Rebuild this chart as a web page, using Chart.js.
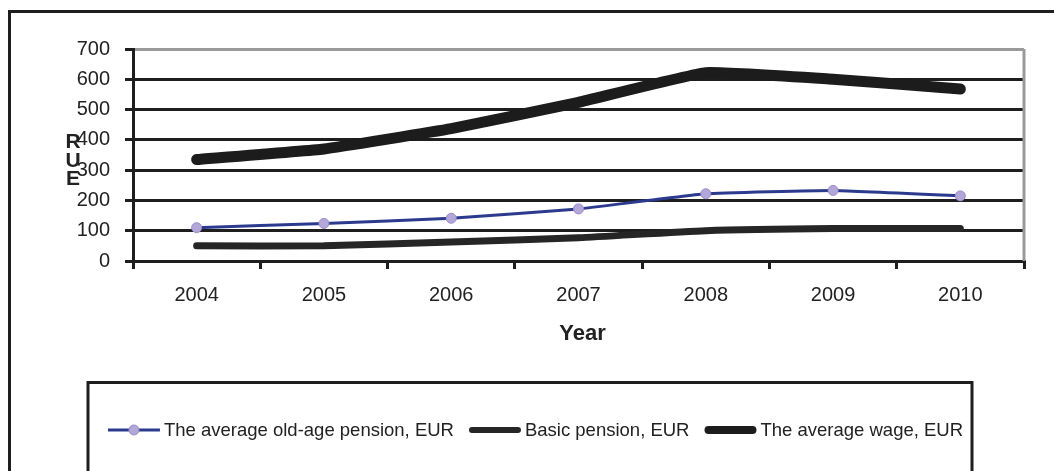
<!DOCTYPE html>
<html>
<head>
<meta charset="utf-8">
<script src="https://cdn.jsdelivr.net/npm/chart.js@4/dist/chart.umd.min.js"></script>
<style>
  html, body { margin: 0; padding: 0; background: #fff; }
  #wrap { width: 1054px; height: 471px; position: relative; }
</style>
</head>
<body>
<div id="wrap"><canvas id="c" width="1054" height="471"></canvas></div>
<script>
const years = ['2004', '2005', '2006', '2007', '2008', '2009', '2010'];
const avgPension = [110, 124, 141, 172, 222, 233, 215];
const basicPension = [50, 50, 63, 77, 100, 107, 107];
const avgWage = [335, 370, 437, 524, 622, 600, 568];
const seriesLabels = ['The average old-age pension, EUR', 'Basic pension, EUR', 'The average wage, EUR'];
const xTitle = 'Year';
const yTitle = 'EUR';
const yMin = 0, yMax = 700, yStep = 100;

Chart.defaults.font.family = '"Liberation Sans", Arial, sans-serif';
Chart.defaults.color = '#222';

const ink = '#1e1e1e';

const decorPlugin = {
  id: 'decor',
  beforeDraw(chart) {
    const c = chart.ctx;
    c.save();
    c.fillStyle = '#fff';
    c.fillRect(0, 0, chart.width, chart.height);
    c.strokeStyle = ink;
    c.lineWidth = 3;
    c.beginPath();
    c.moveTo(9.5, chart.height);
    c.lineTo(9.5, 11.5);
    c.lineTo(chart.width, 11.5);
    c.stroke();
    // legend frame
    c.beginPath();
    c.moveTo(88, chart.height + 2);
    c.lineTo(88, 382.5);
    c.lineTo(972, 382.5);
    c.lineTo(972, chart.height + 2);
    c.stroke();
    c.restore();
  },
  beforeDatasetsDraw(chart) {
    const a = chart.chartArea, c = chart.ctx;
    c.save();
    c.strokeStyle = '#9a9a9a';
    c.lineWidth = 3;
    c.beginPath();
    c.moveTo(a.right, a.top);
    c.lineTo(a.right, a.bottom);
    c.stroke();
    c.restore();
  },
  afterDraw(chart) {
    const c = chart.ctx;
    const a = chart.chartArea;
    c.save();
    // x title
    c.fillStyle = '#222';
    c.font = 'bold 22px "Liberation Sans", Arial, sans-serif';
    c.textAlign = 'center';
    c.textBaseline = 'middle';
    c.fillText(xTitle, (a.left + a.right) / 2 + 4, 334);
    // y title: upright letters stacked bottom-to-top
    c.font = 'bold 21px "Liberation Sans", Arial, sans-serif';
    c.textBaseline = 'alphabetic';
    const letters = yTitle.split('');
    const baseY = 185, step = 18.5;
    letters.forEach((ch, i) => {
      c.fillText(ch, 73, baseY - i * step);
    });
    // legend
    c.font = '18.5px "Liberation Sans", Arial, sans-serif';
    c.textAlign = 'left';
    c.textBaseline = 'middle';
    const ly = 430;
    const sw = 52, gap = 4, itemGap = 15;
    const widths = seriesLabels.map(t => c.measureText(t).width);
    const total = widths.reduce((s, w) => s + sw + gap + w, 0) + itemGap * (seriesLabels.length - 1);
    let x = 535.5 - total / 2;
    chart.data.datasets.forEach((ds, i) => {
      c.save();
      c.strokeStyle = ds.borderColor;
      c.lineWidth = ds.legendWidth;
      c.lineCap = ds.borderCapStyle || 'butt';
      c.beginPath();
      c.moveTo(x + (ds.legendWidth > 4 ? ds.legendWidth / 2 : 0), ly);
      c.lineTo(x + sw - (ds.legendWidth > 4 ? ds.legendWidth / 2 : 0), ly);
      c.stroke();
      if (ds.pointRadius > 0) {
        c.fillStyle = ds.pointBackgroundColor;
        c.strokeStyle = ds.pointBorderColor;
        c.lineWidth = 1;
        c.beginPath();
        c.arc(x + sw / 2, ly, ds.pointRadius, 0, Math.PI * 2);
        c.fill();
        c.stroke();
      }
      c.restore();
      c.fillStyle = '#222';
      c.fillText(ds.label, x + sw + gap, ly + 1);
      x += sw + gap + widths[i] + itemGap;
    });
    c.restore();
  }
};

new Chart(document.getElementById('c'), {
  type: 'line',
  data: {
    labels: years,
    datasets: [
      {
        label: seriesLabels[0],
        data: avgPension,
        borderColor: '#2c3a8e',
        borderWidth: 3,
        legendWidth: 3,
        pointStyle: 'circle',
        pointRadius: 5,
        pointBackgroundColor: '#b3a7da',
        pointBorderColor: '#9a8cc9',
        pointBorderWidth: 1,
        tension: 0.1,
        fill: false
      },
      {
        label: seriesLabels[1],
        data: basicPension,
        borderColor: '#262626',
        borderWidth: 7,
        legendWidth: 6,
        borderCapStyle: 'round',
        pointRadius: 0,
        tension: 0.2,
        fill: false
      },
      {
        label: seriesLabels[2],
        data: avgWage,
        borderColor: '#1c1c1c',
        borderWidth: 11,
        legendWidth: 8,
        borderCapStyle: 'round',
        pointRadius: 0,
        tension: 0.1,
        fill: false
      }
    ]
  },
  options: {
    responsive: false,
    animation: false,
    devicePixelRatio: 1,
    layout: { padding: { top: 49, right: 30, left: 0, bottom: 0 } },
    plugins: {
      legend: { display: false },
      tooltip: { enabled: false }
    },
    scales: {
      x: {
        offset: true,
        afterFit(scale) { scale.height = 210; },
        grid: {
          offset: true,
          drawOnChartArea: false,
          drawTicks: true,
          tickLength: 8,
          color: ink,
          lineWidth: 3
        },
        border: { display: true, color: ink, width: 3 },
        ticks: {
          font: { size: 20 },
          color: '#222',
          padding: 14,
          maxRotation: 0,
          autoSkip: false
        }
      },
      y: {
        min: yMin,
        max: yMax,
        afterFit(scale) { scale.width = 133; },
        grid: {
          drawTicks: true,
          tickLength: 8,
          color: (ctx) => (ctx.tick && ctx.tick.value === yMax ? '#9a9a9a' : ink),
          tickColor: ink,
          lineWidth: 3
        },
        border: { display: true, color: ink, width: 3 },
        ticks: {
          stepSize: yStep,
          font: { size: 20 },
          color: '#222',
          padding: 15
        }
      }
    }
  },
  plugins: [decorPlugin]
});
</script>
</body>
</html>
